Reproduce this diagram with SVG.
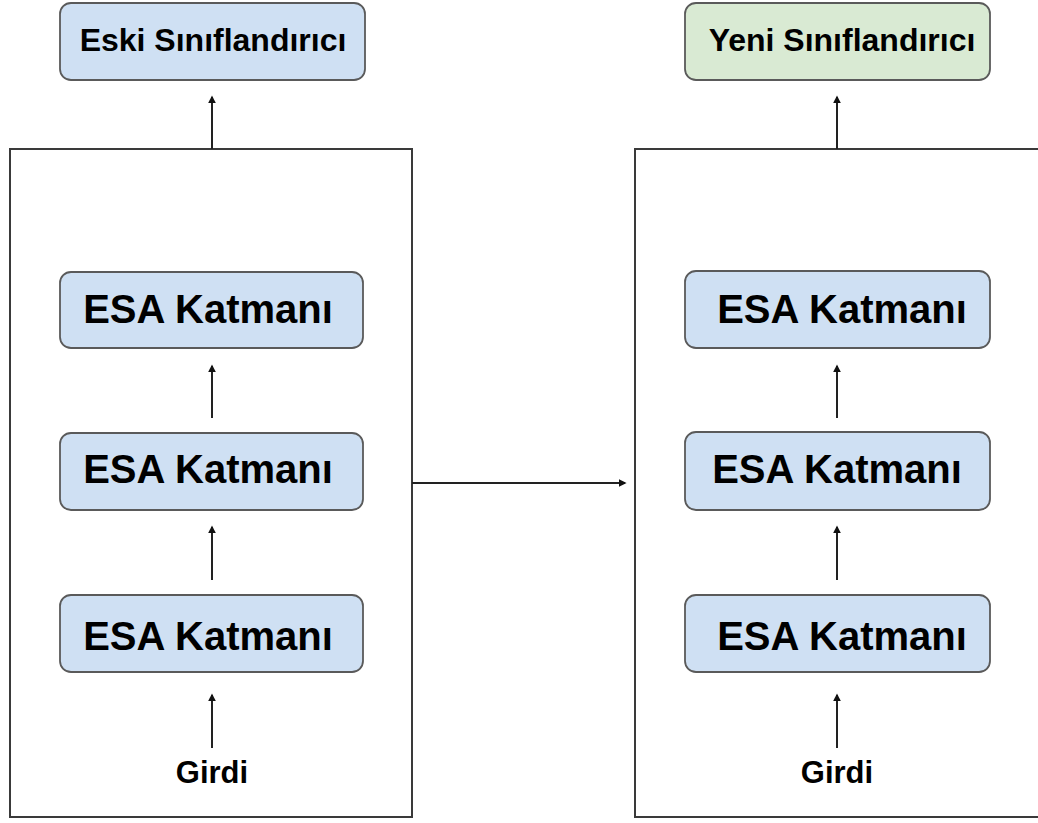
<svg xmlns="http://www.w3.org/2000/svg" width="1038" height="823" viewBox="0 0 1038 823">
  <defs>
    <style>
      .frame { fill: none; stroke: #3a3a3a; stroke-width: 2; }
      .node-blue { fill: #cfe0f3; stroke: #5a5a5a; stroke-width: 1.8; }
      .node-green { fill: #d9ead3; stroke: #5a5a5a; stroke-width: 1.8; }
      .label { font-family: "Liberation Sans", Arial, sans-serif; font-weight: bold; fill: #000; text-anchor: middle; }
      .layer { font-size: 40px; }
      .head { font-size: 32px; }
      .input { font-size: 31px; }
      .edge { fill: none; stroke: #222; stroke-width: 2; marker-end: url(#arrow); }
    </style>
    <marker id="arrow" viewBox="0 0 10 10" refX="8" refY="5" markerWidth="4" markerHeight="4" orient="auto" markerUnits="strokeWidth">
      <path d="M0,0 L10,5 L0,10 z" fill="#111"/>
    </marker>
  </defs>
  <rect width="1038" height="823" fill="#ffffff"/>

  <!-- containers -->
  <g id="old-model">
    <rect class="frame" x="10" y="149" width="402" height="668"/>
  </g>
  <g id="new-model">
    <path class="frame" d="M1040,149 H635 V817 H1040"/>
  </g>

  <!-- left stack -->
  <g id="old-classifier">
    <rect class="node-blue" x="60" y="3" width="305" height="77" rx="11"/>
    <text class="label head" x="213" y="51">Eski Sınıflandırıcı</text>
  </g>
  <g id="old-layer-3">
    <rect class="node-blue" x="60" y="272" width="303" height="76" rx="11"/>
    <text class="label layer" x="208" y="323">ESA Katmanı</text>
  </g>
  <g id="old-layer-2">
    <rect class="node-blue" x="60" y="433" width="303" height="77" rx="11"/>
    <text class="label layer" x="208" y="483">ESA Katmanı</text>
  </g>
  <g id="old-layer-1">
    <rect class="node-blue" x="60" y="595" width="303" height="77" rx="11"/>
    <text class="label layer" x="208" y="650">ESA Katmanı</text>
  </g>
  <g id="old-input">
    <text class="label input" x="212" y="783">Girdi</text>
  </g>

  <!-- right stack -->
  <g id="new-classifier">
    <rect class="node-green" x="685" y="3" width="305" height="77" rx="11"/>
    <text class="label head" x="842" y="51">Yeni Sınıflandırıcı</text>
  </g>
  <g id="new-layer-3">
    <rect class="node-blue" x="685" y="271" width="305" height="77" rx="11"/>
    <text class="label layer" x="842" y="323">ESA Katmanı</text>
  </g>
  <g id="new-layer-2">
    <rect class="node-blue" x="685" y="432" width="305" height="78" rx="11"/>
    <text class="label layer" x="837" y="483">ESA Katmanı</text>
  </g>
  <g id="new-layer-1">
    <rect class="node-blue" x="685" y="595" width="305" height="77" rx="11"/>
    <text class="label layer" x="842" y="650">ESA Katmanı</text>
  </g>
  <g id="new-input">
    <text class="label input" x="837" y="783">Girdi</text>
  </g>

  <!-- connectors -->
  <g id="connectors">
    <line class="edge" x1="212" y1="149" x2="212" y2="97"/>
    <line class="edge" x1="212" y1="418" x2="212" y2="366"/>
    <line class="edge" x1="212" y1="580" x2="212" y2="527"/>
    <line class="edge" x1="212" y1="748" x2="212" y2="695"/>
    <line class="edge" x1="837" y1="149" x2="837" y2="97"/>
    <line class="edge" x1="837" y1="418" x2="837" y2="366"/>
    <line class="edge" x1="837" y1="580" x2="837" y2="527"/>
    <line class="edge" x1="837" y1="748" x2="837" y2="695"/>
    <line class="edge" x1="412" y1="483" x2="625" y2="483"/>
  </g>
</svg>
